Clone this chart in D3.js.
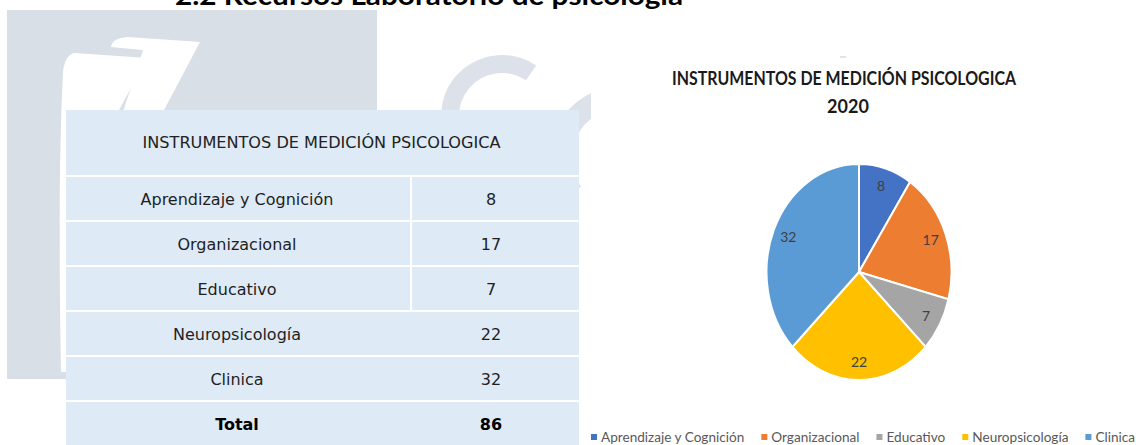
<!DOCTYPE html>
<html lang="es">
<meta charset="utf-8">
<head>
    <script src="https://d3js.org/d3.v7.min.js"></script>
    <style>
        body { margin: 0; background: #fff; }
        svg { display: block; }
    </style>
</head>
<body>
<script>
// data
const categories = ["Aprendizaje y Cognición", "Organizacional", "Educativo", "Neuropsicología", "Clinica"];
const values = [8, 17, 7, 22, 32];
const tableTitle = "INSTRUMENTOS DE MEDICIÓN PSICOLOGICA";
const chartTitle = ["INSTRUMENTOS DE MEDICIÓN PSICOLOGICA", "2020"];
const pageHeading = "2.2 Recursos Laboratorio de psicología";
const totalLabel = "Total";

const W = 1136, H = 445;
const palette = ["#4472C4", "#ED7D31", "#A5A5A5", "#FFC000", "#5B9BD5"];
const color = d3.scaleOrdinal().domain(categories).range(palette);

const svg = d3.select("body").append("svg")
    .attr("width", W)
    .attr("height", H);

// squeeze a text node to a given width
function fit(sel, w) {
    sel.attr("textLength", w).attr("lengthAdjust", "spacingAndGlyphs");
}

// ---- background decoration (slide logo) ----
const bg = svg.append("g");
bg.append("rect")
    .attr("x", 7).attr("y", 10).attr("width", 370).attr("height", 369)
    .attr("fill", "#d9dfe7");
bg.append("path")
    .attr("d", "M75 53 L147 58 L118 112 L66 112 L66 372 L61 372 C59 260 59 150 63 72 Q65 54 75 53 Z")
    .attr("fill", "#fff");
bg.append("path")
    .attr("d", "M128 37 L200 42 L163 112 L123 112 L143 50 L111 47 Q112 38 128 37 Z")
    .attr("fill", "#fff");
const deco = d3.arc();
bg.append("path")
    .attr("transform", "translate(502,116)")
    .attr("d", deco({innerRadius: 43, outerRadius: 61, startAngle: 140 * Math.PI / 180, endAngle: 394 * Math.PI / 180}))
    .attr("fill", "#dde2ea");
bg.append("path")
    .attr("transform", "translate(622,158)")
    .attr("d", deco({innerRadius: 50, outerRadius: 72, startAngle: 235 * Math.PI / 180, endAngle: 360 * Math.PI / 180}))
    .attr("fill", "#dde2ea");
bg.append("rect")
    .attr("x", 591).attr("y", 60).attr("width", 100).attr("height", 150)
    .attr("fill", "#fff");

// page heading, cut by the top edge as in the source
svg.append("text")
    .attr("x", 175).attr("y", 5)
    .attr("font-family", "Lato, 'Open Sans', sans-serif")
    .attr("font-weight", "bold")
    .attr("font-size", 26)
    .attr("fill", "#000")
    .text(pageHeading)
    .call(fit, 508);

// ---- table ----
const tbl = svg.append("g").attr("font-family", "'DejaVu Sans', Verdana, sans-serif");
const tLeft = 66, tRight = 579, tDiv = 411, tTop = 110, headBottom = 176;
const rowNames = categories.concat([totalLabel]);
const rowVals = values.concat([d3.sum(values)]);

const rowY = d3.scaleBand()
    .domain(d3.range(rowNames.length))
    .range([headBottom, headBottom + 45 * rowNames.length]);

tbl.append("rect")
    .attr("x", tLeft).attr("y", tTop)
    .attr("width", tRight - tLeft).attr("height", H - tTop + 5)
    .attr("fill", "#deeaf6");

tbl.append("text")
    .attr("x", (tLeft + tRight) / 2 - 1)
    .attr("y", (tTop + headBottom) / 2 + 5)
    .attr("text-anchor", "middle")
    .attr("font-size", 15)
    .attr("fill", "#222")
    .text(tableTitle)
    .call(fit, 358);

// row separators
tbl.selectAll("line.sep")
    .data(d3.range(rowNames.length))
    .join("line")
    .attr("class", "sep")
    .attr("x1", tLeft).attr("x2", tRight)
    .attr("y1", i => rowY(i)).attr("y2", i => rowY(i))
    .attr("stroke", "#fff").attr("stroke-width", 2);

// column divider only on the first three rows
tbl.append("line")
    .attr("x1", tDiv).attr("x2", tDiv)
    .attr("y1", rowY(0)).attr("y2", rowY(3))
    .attr("stroke", "#fff").attr("stroke-width", 2);

const rows = tbl.selectAll("g.row")
    .data(rowNames.map((n, i) => ({name: n, value: rowVals[i], total: n === totalLabel})))
    .join("g")
    .attr("class", "row")
    .attr("transform", (d, i) => `translate(0,${rowY(i) + rowY.bandwidth() / 2 + 6})`);

rows.append("text")
    .attr("x", 237)
    .attr("text-anchor", "middle")
    .attr("font-size", 16)
    .attr("font-weight", d => d.total ? "bold" : "normal")
    .attr("fill", d => d.total ? "#000" : "#1e1e1e")
    .text(d => d.name);

rows.append("text")
    .attr("x", 491)
    .attr("text-anchor", "middle")
    .attr("font-size", 16)
    .attr("font-weight", d => d.total ? "bold" : "normal")
    .attr("fill", d => d.total ? "#000" : "#1e1e1e")
    .text(d => d.value);

// ---- pie chart ----
const cx = 859, cy = 272, ry = 108, rx = 92.5;
const chartFont = "Lato, 'Open Sans', sans-serif";

svg.append("line")
    .attr("x1", 840).attr("x2", 846).attr("y1", 57).attr("y2", 57)
    .attr("stroke", "#c8c8c8").attr("stroke-width", 1);

svg.selectAll("text.ctitle")
    .data(chartTitle)
    .join("text")
    .attr("class", "ctitle")
    .attr("x", (d, i) => i === 0 ? 844 : 848)
    .attr("y", (d, i) => 85 + i * 28)
    .attr("text-anchor", "middle")
    .attr("font-family", chartFont)
    .attr("font-weight", "bold")
    .attr("font-size", 18)
    .attr("fill", "#1a1a1a")
    .text(d => d)
    .each(function(d, i) { if (i === 0) d3.select(this).call(fit, 344); });

const pie = d3.pie().sort(null).value(d => d.value);
const arcs = pie(categories.map((c, i) => ({name: c, value: values[i]})));
const arc = d3.arc().innerRadius(0).outerRadius(ry);
const labelArc = d3.arc().innerRadius(ry * 0.83).outerRadius(ry * 0.83);

svg.append("g")
    .attr("transform", `translate(${cx},${cy}) scale(${rx / ry},1)`)
    .selectAll("path")
    .data(arcs)
    .join("path")
    .attr("d", arc)
    .attr("fill", d => color(d.data.name))
    .attr("stroke", "#fff")
    .attr("stroke-width", 2)
    .attr("vector-effect", "non-scaling-stroke");

svg.append("g")
    .attr("transform", `translate(${cx},${cy})`)
    .selectAll("text")
    .data(arcs)
    .join("text")
    .attr("transform", d => {
        const [x, y] = labelArc.centroid(d);
        return `translate(${x * rx / ry},${y})`;
    })
    .attr("text-anchor", "middle")
    .attr("dy", "0.35em")
    .attr("font-family", chartFont)
    .attr("font-size", 14)
    .attr("fill", "#404040")
    .text(d => d.data.value);

// legend
const legend = svg.append("g")
    .attr("transform", "translate(591,437)")
    .attr("font-family", chartFont)
    .attr("font-size", 13.6)
    .attr("fill", "#595959");
let lx = 0;
categories.forEach(c => {
    const item = legend.append("g").attr("transform", `translate(${lx},0)`);
    item.append("rect")
        .attr("x", 0).attr("y", -3).attr("width", 6).attr("height", 6)
        .attr("fill", color(c));
    const t = item.append("text")
        .attr("x", 10).attr("dy", "0.35em")
        .text(c);
    lx += 10 + t.node().getComputedTextLength() + 17;
});
</script>
</body>
</html>
